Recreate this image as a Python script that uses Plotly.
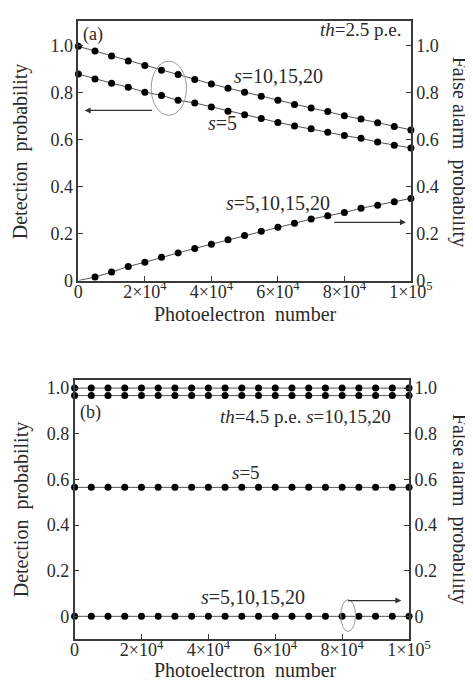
import plotly.graph_objects as go

# ---------------- data ----------------
photoelectrons = [0, 5000, 10000, 15000, 20000, 25000, 30000, 35000, 40000, 45000, 50000,
                  55000, 60000, 65000, 70000, 75000, 80000, 85000, 90000, 95000, 100000]

# panel (a), th = 2.5 p.e.
det_a_s10_20 = [0.998, 0.978, 0.957, 0.936, 0.917, 0.896, 0.878, 0.857, 0.838, 0.820, 0.803,
                0.785, 0.768, 0.750, 0.735, 0.720, 0.702, 0.688, 0.673, 0.657, 0.642]
det_a_s5 = [0.880, 0.859, 0.841, 0.824, 0.803, 0.789, 0.768, 0.757, 0.740, 0.722, 0.707,
            0.691, 0.674, 0.659, 0.647, 0.632, 0.618, 0.606, 0.590, 0.577, 0.565]
fa_a_all = [0.000, 0.015, 0.036, 0.060, 0.078, 0.099, 0.118, 0.137, 0.155, 0.174, 0.192,
            0.210, 0.227, 0.244, 0.262, 0.276, 0.290, 0.308, 0.321, 0.336, 0.350]

# panel (b), th = 4.5 p.e.
det_b_s_hi1 = [1.00, 1.00, 1.00, 1.00, 1.00, 1.00, 1.00, 1.00, 1.00, 1.00, 1.00,
               1.00, 1.00, 1.00, 1.00, 1.00, 1.00, 1.00, 1.00, 1.00, 1.00]
det_b_s_hi2 = [0.967, 0.967, 0.967, 0.967, 0.967, 0.967, 0.967, 0.967, 0.967, 0.967, 0.967,
               0.967, 0.967, 0.967, 0.967, 0.967, 0.967, 0.967, 0.967, 0.967, 0.967]
det_b_s5 = [0.565, 0.565, 0.565, 0.565, 0.565, 0.565, 0.565, 0.565, 0.565, 0.565, 0.565,
            0.565, 0.565, 0.565, 0.565, 0.565, 0.565, 0.565, 0.565, 0.565, 0.565]
fa_b_all = [0.0, 0.0, 0.0, 0.0, 0.0, 0.0, 0.0, 0.0, 0.0, 0.0, 0.0,
            0.0, 0.0, 0.0, 0.0, 0.0, 0.0, 0.0, 0.0, 0.0, 0.0]

x_tickvals = [0, 20000, 40000, 60000, 80000, 100000]
x_ticktext = ["0", "2×10<sup>4</sup>", "4×10<sup>4</sup>", "6×10<sup>4</sup>",
              "8×10<sup>4</sup>", "1×10<sup>5</sup>"]
y_tickvals = [0, 0.2, 0.4, 0.6, 0.8, 1.0]
y_ticktext = ["0", "0.2", "0.4", "0.6", "0.8", "1.0"]

# ---------------- style ----------------
W, H = 473, 684
FONT = "Liberation Serif"
INK = "#2a2a2a"
LINE = "#555555"
FRAME = "#3a3a3a"

def px(x):
    return x / W

def py(y):
    return 1 - y / H

fig = go.Figure()

def series(x, y, xa, ya, mode="lines+markers"):
    fig.add_trace(go.Scatter(
        x=x, y=y, xaxis=xa, yaxis=ya, mode=mode,
        line=dict(color=LINE, width=1),
        marker=dict(color="black", size=7),
        cliponaxis=False, showlegend=False, hoverinfo="x+y"))

series(photoelectrons, det_a_s10_20, "x", "y")
series(photoelectrons, det_a_s5, "x", "y")
series(photoelectrons, fa_a_all, "x", "y2", mode="lines")
series(photoelectrons[1:], fa_a_all[1:], "x", "y2", mode="markers")

series(photoelectrons, det_b_s_hi1, "x2", "y3")
series(photoelectrons, det_b_s_hi2, "x2", "y3")
series(photoelectrons, det_b_s5, "x2", "y3")
series(photoelectrons, fa_b_all, "x2", "y4")

tickfont = dict(family=FONT, size=18, color=INK)

def xaxis(domain, anchor):
    return dict(domain=domain, anchor=anchor, range=[0, 100000],
                tickvals=x_tickvals, ticktext=x_ticktext, tickfont=tickfont,
                ticks="inside", ticklen=5, tickcolor=FRAME, tickwidth=1,
                ticklabelstandoff=-6,
                showline=True, linecolor=FRAME, linewidth=1.6, mirror=True,
                showgrid=False, zeroline=False)

def yaxis(domain, anchor, rng, side="left", overlaying=None):
    d = dict(domain=domain, anchor=anchor, range=rng, side=side,
             tickvals=y_tickvals, ticktext=y_ticktext, tickfont=tickfont,
             ticks="inside", ticklen=5, tickcolor=FRAME, tickwidth=1,
             showline=True, linecolor=FRAME, linewidth=1.6,
             showgrid=False, zeroline=False)
    if overlaying:
        d["overlaying"] = overlaying
    return d

dom_ax = [px(69.3), px(422)]
dom_ay = [py(276.0), py(12.7)]
dom_bx = [px(65.3), px(420)]
dom_by = [py(640), py(376.7)]
rng_a = [0, 1.104]
rng_b = [-0.098, 1.037]

fig.update_layout(
    width=W, height=H,
    margin=dict(l=0, r=0, t=0, b=0),
    paper_bgcolor="white", plot_bgcolor="white",
    xaxis=xaxis(dom_ax, "y"),
    yaxis=yaxis(dom_ay, "x", rng_a),
    yaxis2=yaxis(dom_ay, "x", rng_a, side="right", overlaying="y"),
    xaxis2=xaxis(dom_bx, "y3"),
    yaxis3=yaxis(dom_by, "x2", rng_b),
    yaxis4=yaxis(dom_by, "x2", rng_b, side="right", overlaying="y3"),
)

ann = []

def text(x, y, s, size=17, angle=0):
    ann.append(dict(x=px(x), y=py(y), xref="paper", yref="paper", text=s,
                    showarrow=False, textangle=angle,
                    font=dict(family=FONT, size=size, color=INK),
                    xanchor="center", yanchor="middle"))

# axis titles
text(8, 145, "Detection  probability", 20, -90)
text(473, 145, "False alarm  probability", 20, 90)
text(247, 310, "Photoelectron  number", 20)
text(9, 508, "Detection  probability", 20, -90)
text(473, 508, "False alarm  probability", 20, 90)
text(247, 672, "Photoelectron  number", 20)

# panel (a) labels
text(85, 26, "(a)", 18)
text(369, 21, "<i>th</i>=2.5 p.e.", 19)
text(282, 68, "<i>s</i>=10,15,20", 20)
text(222, 116, "<i>s</i>=5", 20)
text(281, 197, "<i>s</i>=5,10,15,20", 20)

# panel (b) labels
text(82, 410, "(b)", 18)
text(310, 414, "<i>th</i>=4.5 p.e. <i>s</i>=10,15,20", 19)
text(247, 471, "<i>s</i>=5", 19)
text(254, 598, "<i>s</i>=5,10,15,20", 20)

# arrows
def arrow(xref, yref, x_tail, x_head, y):
    ann.append(dict(x=x_head, y=y, ax=x_tail, ay=y, xref=xref, yref=yref,
                    axref=xref, ayref=yref, text="", showarrow=True,
                    arrowhead=2, arrowsize=1, arrowwidth=1.2, arrowcolor="#333333"))

arrow("x", "y", 22600, 1900, 0.725)
arrow("x", "y2", 76500, 98500, 0.248)
arrow("x2", "y3", 81300, 97700, 0.069)

fig.update_layout(annotations=ann)

# ellipses
fig.add_shape(type="circle", xref="x", yref="y", x0=21900, x1=32500, y0=0.704, y1=0.935,
              line=dict(color="#9a9a9a", width=1))
fig.add_shape(type="circle", xref="x2", yref="y3", x0=79600, x1=84000, y0=-0.066, y1=0.073,
              line=dict(color="#9a9a9a", width=1))

fig.write_html("out.html")
